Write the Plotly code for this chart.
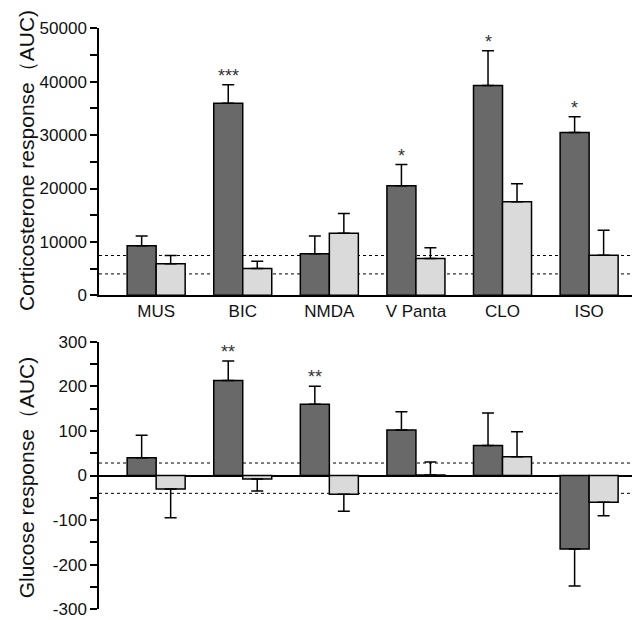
import plotly.graph_objects as go

categories = ["MUS", "BIC", "NMDA", "V Panta", "CLO", "ISO"]

# corticosterone response (AUC): dark = drug, light = control
cort_dark = [9300, 36000, 7800, 20500, 39300, 30500]
cort_dark_sem = [1800, 3450, 3300, 4000, 6500, 2950]
cort_light = [5900, 5000, 11600, 6900, 17500, 7500]
cort_light_sem = [1550, 1350, 3700, 2000, 3400, 4700]
cort_stars = ["", "***", "", "*", "*", "*"]
cort_ref = [7450, 4000]
cort_ticks = [0, 10000, 20000, 30000, 40000, 50000]
cort_ticktext = ["0", "10000", "20000", "30000", "40000", "50000"]

# glucose response (AUC)
gluc_dark = [40, 213, 160, 102, 67, -165]
gluc_dark_sem = [50, 44, 40, 41, 73, 83]
gluc_light = [-30, -8, -42, 1, 42, -60]
gluc_light_sem = [65, 27, 38, 29, 56, 30]
gluc_stars = ["", "**", "**", "", "", ""]
gluc_ref = [28, -40]
gluc_ticks = [-300, -200, -100, 0, 100, 200, 300]
gluc_ticktext = ["-300", "-200", "-100", "0", "100", "200", "300"]

DARK = "#696969"
LIGHT = "#dadada"
FONT = "Liberation Sans"

x = list(range(len(categories)))


def err(vals, sems):
    # error bar only on the side away from zero
    up = [s if v >= 0 else 0 for v, s in zip(vals, sems)]
    down = [s if v < 0 else 0 for v, s in zip(vals, sems)]
    return dict(type="data", symmetric=False, array=up, arrayminus=down,
                color="black", thickness=1.5, width=6)


fig = go.Figure()
for vals, sems, col, xa, ya, og in [
    (cort_dark, cort_dark_sem, DARK, "x", "y", "a"),
    (cort_light, cort_light_sem, LIGHT, "x", "y", "b"),
    (gluc_dark, gluc_dark_sem, DARK, "x2", "y2", "a"),
    (gluc_light, gluc_light_sem, LIGHT, "x2", "y2", "b"),
]:
    fig.add_trace(go.Bar(x=x, y=vals, xaxis=xa, yaxis=ya, offsetgroup=og,
                         marker=dict(color=col, line=dict(color="black", width=1.5)),
                         error_y=err(vals, sems), showlegend=False))

# dotted reference lines, behind the bars
for yv in cort_ref:
    fig.add_shape(type="line", xref="x domain", yref="y", x0=0, x1=1, y0=yv, y1=yv,
                  line=dict(color="black", width=1, dash="dot"), layer="below")
for yv in gluc_ref:
    fig.add_shape(type="line", xref="x2 domain", yref="y2", x0=0, x1=1, y0=yv, y1=yv,
                  line=dict(color="black", width=1, dash="dot"), layer="below")

# significance stars
for i, s in enumerate(cort_stars):
    if s:
        fig.add_annotation(x=i - 0.1675, y=cort_dark[i] + cort_dark_sem[i], xref="x", yref="y",
                           text=s, showarrow=False, yanchor="bottom", yshift=-3,
                           font=dict(family=FONT, size=18, color="#333"))
for i, s in enumerate(gluc_stars):
    if s:
        fig.add_annotation(x=i - 0.1675, y=gluc_dark[i] + gluc_dark_sem[i], xref="x2", yref="y2",
                           text=s, showarrow=False, yanchor="bottom", yshift=-3,
                           font=dict(family=FONT, size=18, color="#333"))

# y axis titles
fig.add_annotation(text="Corticosterone response（AUC)", xref="paper", yref="paper",
                   x=-0.133, y=0.762, xanchor="center", yanchor="middle", textangle=-90,
                   showarrow=False, font=dict(family=FONT, size=21, color="#111"))
fig.add_annotation(text="Glucose response（AUC)", xref="paper", yref="paper",
                   x=-0.133, y=0.234, xanchor="center", yanchor="middle", textangle=-90,
                   showarrow=False, font=dict(family=FONT, size=21, color="#111"))

xr = [-0.66, 5.68]
tickfont = dict(family=FONT, size=17, color="#111")
fig.update_layout(
    width=640, height=620,
    margin=dict(l=91, r=0, t=0, b=0),
    plot_bgcolor="white", paper_bgcolor="white",
    barmode="group", bargap=0.33, bargroupgap=0,
    xaxis=dict(domain=[0, 1], range=xr, tickvals=x, ticktext=categories, ticks="",
               showline=True, linecolor="black", linewidth=1.5, showgrid=False,
               zeroline=False, anchor="y", tickfont=tickfont),
    yaxis=dict(domain=[0.537, 0.981], range=[0, 50000], tickvals=cort_ticks,
               ticktext=cort_ticktext, ticks="outside",
               ticklen=7, tickwidth=1.5, tickcolor="black",
               minor=dict(dtick=5000, ticks="outside", ticklen=7, tickwidth=1.5, tickcolor="black"),
               showline=True, linecolor="black", linewidth=1.5, showgrid=False,
               zeroline=False, tickfont=tickfont, anchor="x"),
    xaxis2=dict(domain=[0, 1], range=xr, showticklabels=False, ticks="", showline=False,
                showgrid=False, zeroline=False, anchor="y2"),
    yaxis2=dict(domain=[0.0145, 0.4597], range=[-300, 300], tickvals=gluc_ticks,
                ticktext=gluc_ticktext, ticks="outside",
                ticklen=7, tickwidth=1.5, tickcolor="black",
                minor=dict(dtick=50, ticks="outside", ticklen=7, tickwidth=1.5, tickcolor="black"),
                showline=True, linecolor="black", linewidth=1.5, showgrid=False,
                zeroline=True, zerolinecolor="black", zerolinewidth=1.5,
                tickfont=tickfont, anchor="x2"),
)

fig.write_html("out.html")
